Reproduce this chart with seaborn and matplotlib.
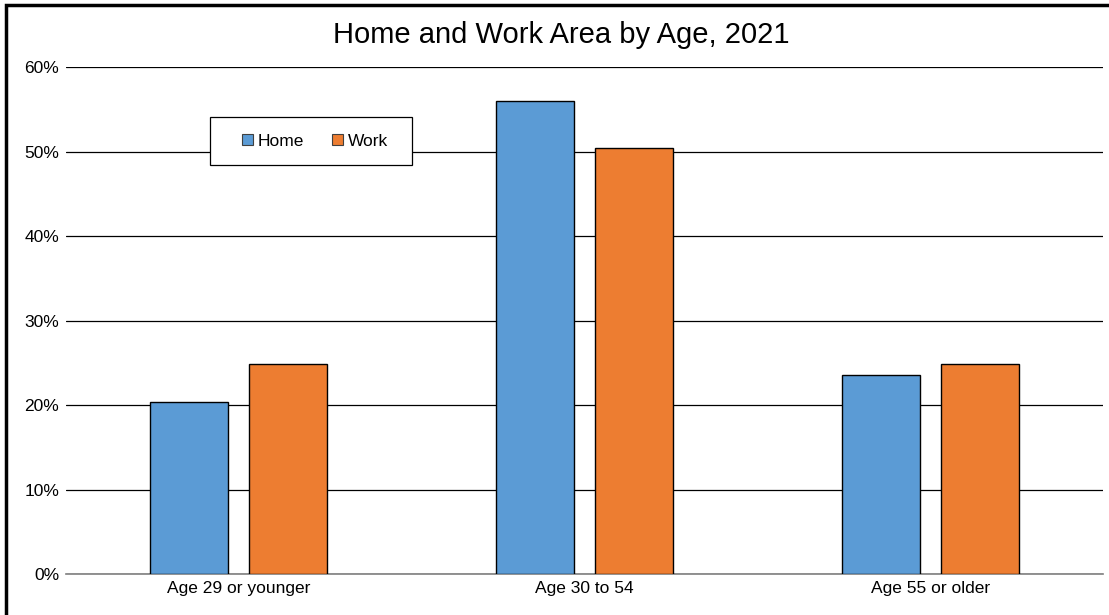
import pandas as pd
import seaborn as sns
import matplotlib.pyplot as plt
from matplotlib.patches import Rectangle
from matplotlib.ticker import PercentFormatter

# values
age_groups = ["Age 29 or younger", "Age 30 to 54", "Age 55 or older"]
home_share = [20.4, 56.0, 23.6]
work_share = [24.8, 50.4, 24.8]
areas = ["Home", "Work"]
y_ticks = [0, 10, 20, 30, 40, 50, 60]

df = pd.DataFrame({
    "age": age_groups * 2,
    "area": ["Home"] * 3 + ["Work"] * 3,
    "share": home_share + work_share,
})

sns.set_style("white")
plt.rcParams["font.family"] = ["Liberation Sans", "DejaVu Sans"]
plt.rcParams["text.color"] = "black"
plt.rcParams["xtick.color"] = "black"
plt.rcParams["ytick.color"] = "black"

W, H = 1109, 615
fig = plt.figure(figsize=(W / 100, H / 100), dpi=100)
ax = fig.add_axes([66 / W, 1 - 574 / H, (1103 - 66) / W, (574 - 67) / H])

sns.barplot(data=df, x="age", y="share", hue="area", hue_order=areas,
            palette=["#5B9BD5", "#ED7D31"], saturation=1, width=0.573, gap=0.215,
            edgecolor="black", linewidth=1, ax=ax, zorder=3)

ax.set_ylim(0, 60)
ax.set_xlim(-0.5, 2.5)
ax.set_yticks(y_ticks)
ax.yaxis.set_major_formatter(PercentFormatter(decimals=0))
ax.grid(axis="y", color="black", linewidth=0.9, zorder=0)
ax.set_axisbelow(True)
for side in ["left", "right", "top"]:
    ax.spines[side].set_visible(False)
ax.spines["bottom"].set_color("#7f7f7f")
ax.spines["bottom"].set_linewidth(1.2)
ax.tick_params(axis="both", length=0, labelsize=12.5, pad=5)
ax.set_xlabel("")
ax.set_ylabel("")

fig.text(561 / W, 1 - 35 / H, "Home and Work Area by Age, 2021",
         ha="center", va="center", fontsize=21)

# legend without its own frame; the box is drawn separately to get Excel-like padding
leg = ax.legend(loc="center", bbox_to_anchor=((315 - 66) / 1037, (574 - 141) / 507),
                ncol=2, frameon=False, fontsize=12.5,
                handlelength=0.65, handleheight=0.65, handletextpad=0.25,
                columnspacing=1.6, borderpad=0, borderaxespad=0)
for h in leg.legend_handles:
    h.set_edgecolor("#404040")
    h.set_linewidth(0.8)
leg.set_zorder(6)
box = Rectangle((210 / W, 1 - 165 / H), 202 / W, 48 / H,
                transform=fig.transFigure, facecolor="white",
                edgecolor="black", linewidth=0.9, zorder=5, clip_on=False)
ax.add_patch(box)

fig.patches.append(Rectangle((6 / W, -0.01), 1.05, 1 - 5 / H + 0.01,
                             transform=fig.transFigure, fill=False,
                             edgecolor="black", linewidth=2.5))

fig.savefig("out.png", dpi=100)
